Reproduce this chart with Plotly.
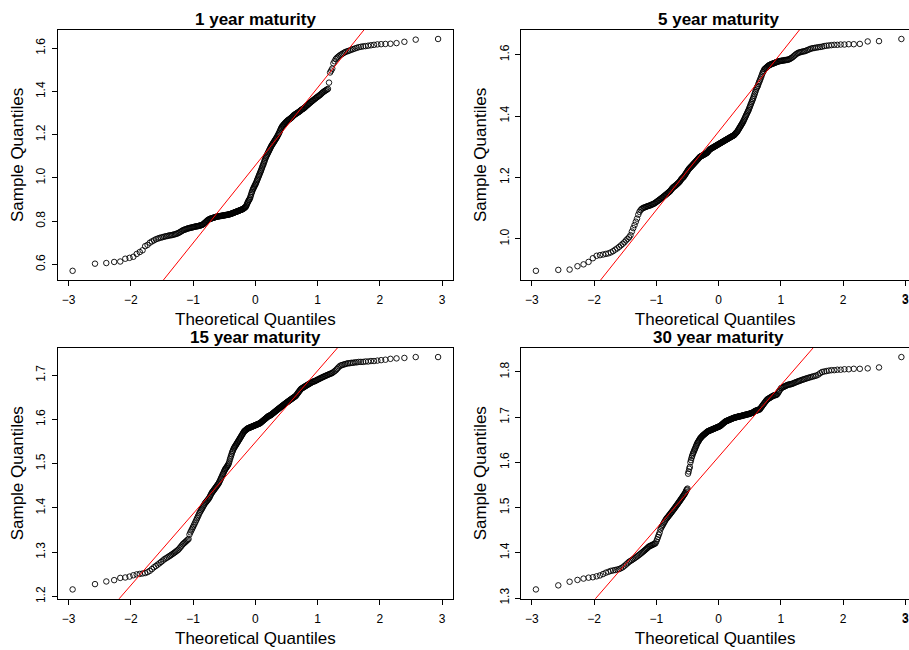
import numpy as np
import plotly.graph_objects as go
from statistics import NormalDist

# ---------------- data (sorted sample values, n = 300 each) ----------------
panel_titles = ["1 year maturity", "5 year maturity", "15 year maturity", "30 year maturity"]

y_1yr = [
    .570, .603, .606, .611, .613, .626, .630, .635, .648, .657,
    .665, .684, .690, .700, .706, .711, .716, .719, .722, .724,
    .726, .728, .730, .731, .733, .734, .735, .736, .738, .739,
    .741, .743, .745, .748, .751, .754, .757, .759, .761, .762,
    .764, .766, .767, .768, .769, .770, .771, .772, .773, .774,
    .775, .776, .776, .777, .778, .779, .780, .781, .782, .784,
    .786, .789, .792, .795, .798, .801, .804, .806, .808, .810,
    .811, .812, .813, .814, .815, .816, .817, .818, .819, .820,
    .821, .821, .822, .822, .823, .823, .824, .824, .825, .825,
    .826, .826, .827, .827, .828, .828, .829, .829, .830, .830,
    .831, .832, .832, .833, .834, .835, .836, .837, .838, .839,
    .840, .841, .842, .843, .844, .845, .846, .847, .848, .849,
    .850, .851, .852, .853, .854, .855, .857, .858, .860, .862,
    .864, .866, .870, .876, .882, .887, .892, .897, .900, .905,
    .912, .920, .928, .935, .942, .948, .953, .958, .963, .968,
    .972, .978, .984, .990, .996, 1.002, 1.008, 1.014, 1.020, 1.026,
    1.032, 1.038, 1.045, 1.052, 1.058, 1.064, 1.071, 1.078, 1.085, 1.092,
    1.098, 1.103, 1.108, 1.113, 1.118, 1.123, 1.128, 1.133, 1.138, 1.143,
    1.148, 1.152, 1.156, 1.160, 1.164, 1.168, 1.172, 1.176, 1.180, 1.184,
    1.188, 1.193, 1.198, 1.203, 1.208, 1.214, 1.220, 1.226, 1.231, 1.236,
    1.240, 1.243, 1.246, 1.249, 1.252, 1.255, 1.258, 1.261, 1.263, 1.266,
    1.268, 1.270, 1.272, 1.274, 1.276, 1.279, 1.281, 1.284, 1.287, 1.290,
    1.292, 1.294, 1.296, 1.298, 1.300, 1.302, 1.304, 1.306, 1.308, 1.311,
    1.314, 1.316, 1.318, 1.320, 1.322, 1.325, 1.328, 1.331, 1.334, 1.337,
    1.340, 1.343, 1.346, 1.349, 1.352, 1.355, 1.358, 1.361, 1.364, 1.367,
    1.370, 1.373, 1.376, 1.379, 1.382, 1.385, 1.389, 1.393, 1.397, 1.400,
    1.403, 1.406, 1.409, 1.412, 1.441, 1.488, 1.497, 1.506, 1.530, 1.540,
    1.550, 1.556, 1.561, 1.566, 1.570, 1.574, 1.578, 1.582, 1.585, 1.587,
    1.590, 1.593, 1.596, 1.599, 1.602, 1.605, 1.607, 1.609, 1.610, 1.612,
    1.614, 1.616, 1.618, 1.619, 1.620, 1.621, 1.624, 1.630, 1.640, 1.643,
]

y_5yr = [
    .896, .899, .900, .911, .917, .925, .937, .945, .947, .949,
    .951, .953, .956, .960, .965, .969, .974, .979, .984, .989,
    .995, 1.000, 1.005, 1.012, 1.024, 1.035, 1.045, 1.056, 1.066, 1.079,
    1.088, 1.094, 1.098, 1.100, 1.102, 1.103, 1.104, 1.106, 1.107, 1.108,
    1.109, 1.110, 1.112, 1.113, 1.114, 1.116, 1.118, 1.120, 1.122, 1.124,
    1.126, 1.128, 1.130, 1.132, 1.134, 1.136, 1.138, 1.140, 1.142, 1.144,
    1.146, 1.148, 1.150, 1.152, 1.154, 1.156, 1.159, 1.162, 1.165, 1.167,
    1.169, 1.171, 1.172, 1.174, 1.176, 1.178, 1.180, 1.182, 1.184, 1.186,
    1.189, 1.192, 1.195, 1.197, 1.199, 1.201, 1.203, 1.206, 1.209, 1.212,
    1.215, 1.218, 1.221, 1.224, 1.227, 1.229, 1.231, 1.233, 1.235, 1.237,
    1.239, 1.241, 1.243, 1.245, 1.247, 1.249, 1.251, 1.253, 1.255, 1.257,
    1.259, 1.261, 1.263, 1.265, 1.267, 1.268, 1.269, 1.270, 1.271, 1.272,
    1.273, 1.274, 1.275, 1.276, 1.277, 1.278, 1.279, 1.280, 1.282, 1.284,
    1.286, 1.288, 1.290, 1.292, 1.293, 1.294, 1.295, 1.296, 1.297, 1.298,
    1.299, 1.300, 1.301, 1.302, 1.303, 1.304, 1.305, 1.306, 1.307, 1.308,
    1.309, 1.310, 1.311, 1.312, 1.313, 1.314, 1.315, 1.316, 1.317, 1.318,
    1.319, 1.320, 1.321, 1.322, 1.323, 1.324, 1.325, 1.326, 1.327, 1.328,
    1.329, 1.330, 1.331, 1.332, 1.333, 1.334, 1.335, 1.336, 1.337, 1.338,
    1.340, 1.342, 1.344, 1.346, 1.348, 1.350, 1.353, 1.356, 1.359, 1.362,
    1.365, 1.368, 1.371, 1.374, 1.377, 1.380, 1.384, 1.388, 1.392, 1.396,
    1.400, 1.404, 1.408, 1.412, 1.416, 1.420, 1.425, 1.430, 1.435, 1.440,
    1.445, 1.450, 1.455, 1.460, 1.466, 1.472, 1.478, 1.484, 1.490, 1.494,
    1.498, 1.504, 1.510, 1.515, 1.520, 1.526, 1.532, 1.538, 1.543, 1.547,
    1.552, 1.554, 1.556, 1.558, 1.560, 1.562, 1.564, 1.566, 1.567, 1.568,
    1.569, 1.570, 1.571, 1.572, 1.573, 1.574, 1.575, 1.576, 1.577, 1.578,
    1.579, 1.579, 1.580, 1.580, 1.581, 1.581, 1.582, 1.582, 1.583, 1.583,
    1.584, 1.585, 1.587, 1.589, 1.591, 1.594, 1.597, 1.600, 1.603, 1.605,
    1.607, 1.608, 1.609, 1.610, 1.611, 1.612, 1.614, 1.616, 1.618, 1.620,
    1.621, 1.622, 1.623, 1.624, 1.625, 1.626, 1.628, 1.629, 1.630, 1.631,
    1.632, 1.632, 1.633, 1.633, 1.634, 1.634, 1.635, 1.643, 1.644, 1.651,
]

y_15yr = [
    1.216, 1.228, 1.234, 1.237, 1.242, 1.243, 1.245, 1.248, 1.250, 1.251,
    1.252, 1.253, 1.255, 1.258, 1.262, 1.266, 1.269, 1.272, 1.275, 1.278,
    1.281, 1.284, 1.286, 1.288, 1.290, 1.292, 1.294, 1.296, 1.298, 1.300,
    1.302, 1.304, 1.306, 1.309, 1.312, 1.315, 1.318, 1.320, 1.322, 1.324,
    1.326, 1.328, 1.330, 1.340, 1.345, 1.349, 1.353, 1.357, 1.361, 1.365,
    1.369, 1.373, 1.377, 1.381, 1.385, 1.389, 1.392, 1.395, 1.398, 1.401,
    1.404, 1.407, 1.410, 1.412, 1.414, 1.416, 1.418, 1.420, 1.422, 1.425,
    1.428, 1.431, 1.434, 1.436, 1.438, 1.440, 1.442, 1.444, 1.446, 1.448,
    1.450, 1.452, 1.454, 1.456, 1.459, 1.462, 1.465, 1.468, 1.471, 1.474,
    1.477, 1.480, 1.483, 1.486, 1.488, 1.490, 1.492, 1.494, 1.496, 1.498,
    1.501, 1.505, 1.510, 1.514, 1.518, 1.522, 1.526, 1.529, 1.532, 1.535,
    1.537, 1.539, 1.541, 1.543, 1.545, 1.547, 1.549, 1.551, 1.553, 1.555,
    1.557, 1.559, 1.561, 1.563, 1.565, 1.567, 1.569, 1.571, 1.573, 1.574,
    1.575, 1.576, 1.577, 1.578, 1.579, 1.580, 1.580, 1.581, 1.581, 1.582,
    1.582, 1.583, 1.583, 1.584, 1.584, 1.585, 1.585, 1.586, 1.586, 1.587,
    1.587, 1.588, 1.588, 1.589, 1.589, 1.590, 1.590, 1.591, 1.591, 1.592,
    1.593, 1.594, 1.595, 1.596, 1.597, 1.598, 1.599, 1.600, 1.601, 1.602,
    1.603, 1.604, 1.605, 1.606, 1.607, 1.608, 1.608, 1.609, 1.609, 1.610,
    1.611, 1.612, 1.613, 1.614, 1.615, 1.616, 1.617, 1.618, 1.619, 1.620,
    1.621, 1.622, 1.623, 1.624, 1.625, 1.626, 1.627, 1.628, 1.629, 1.630,
    1.631, 1.632, 1.633, 1.634, 1.635, 1.636, 1.637, 1.638, 1.639, 1.640,
    1.641, 1.642, 1.643, 1.644, 1.645, 1.646, 1.647, 1.648, 1.649, 1.650,
    1.651, 1.652, 1.653, 1.655, 1.657, 1.659, 1.661, 1.663, 1.665, 1.667,
    1.669, 1.670, 1.671, 1.672, 1.673, 1.674, 1.675, 1.676, 1.677, 1.678,
    1.679, 1.680, 1.681, 1.682, 1.683, 1.684, 1.685, 1.686, 1.686, 1.687,
    1.688, 1.689, 1.690, 1.691, 1.692, 1.693, 1.694, 1.695, 1.696, 1.697,
    1.698, 1.699, 1.700, 1.701, 1.702, 1.703, 1.704, 1.705, 1.707, 1.709,
    1.711, 1.714, 1.717, 1.720, 1.722, 1.723, 1.724, 1.725, 1.726, 1.727,
    1.727, 1.728, 1.728, 1.729, 1.729, 1.730, 1.730, 1.730, 1.731, 1.731,
    1.732, 1.732, 1.733, 1.734, 1.735, 1.737, 1.738, 1.739, 1.741, 1.741,
]

y_30yr = [
    1.319, 1.328, 1.336, 1.340, 1.343, 1.345, 1.346, 1.348, 1.350, 1.353,
    1.356, 1.358, 1.360, 1.361, 1.362, 1.363, 1.364, 1.366, 1.368, 1.371,
    1.374, 1.377, 1.380, 1.382, 1.384, 1.386, 1.388, 1.390, 1.392, 1.394,
    1.396, 1.398, 1.400, 1.402, 1.404, 1.406, 1.408, 1.410, 1.412, 1.414,
    1.415, 1.416, 1.417, 1.418, 1.419, 1.420, 1.421, 1.425, 1.430, 1.435,
    1.440, 1.445, 1.452, 1.456, 1.459, 1.462, 1.465, 1.468, 1.471, 1.474,
    1.476, 1.478, 1.480, 1.482, 1.484, 1.486, 1.488, 1.490, 1.492, 1.494,
    1.496, 1.498, 1.500, 1.502, 1.504, 1.506, 1.508, 1.510, 1.512, 1.514,
    1.516, 1.518, 1.520, 1.522, 1.524, 1.526, 1.528, 1.530, 1.532, 1.535,
    1.538, 1.540, 1.542, 1.575, 1.580, 1.586, 1.590, 1.600, 1.605, 1.610,
    1.614, 1.618, 1.621, 1.624, 1.627, 1.630, 1.633, 1.636, 1.639, 1.642,
    1.644, 1.646, 1.648, 1.650, 1.652, 1.654, 1.655, 1.656, 1.658, 1.659,
    1.660, 1.661, 1.662, 1.663, 1.664, 1.665, 1.666, 1.667, 1.668, 1.669,
    1.669, 1.670, 1.670, 1.671, 1.671, 1.672, 1.672, 1.673, 1.673, 1.674,
    1.674, 1.675, 1.675, 1.676, 1.676, 1.677, 1.677, 1.678, 1.678, 1.679,
    1.679, 1.680, 1.680, 1.681, 1.682, 1.683, 1.684, 1.685, 1.686, 1.687,
    1.688, 1.689, 1.690, 1.691, 1.691, 1.692, 1.692, 1.693, 1.693, 1.694,
    1.694, 1.695, 1.695, 1.696, 1.696, 1.697, 1.697, 1.698, 1.698, 1.699,
    1.699, 1.699, 1.700, 1.700, 1.700, 1.701, 1.701, 1.701, 1.702, 1.702,
    1.702, 1.702, 1.703, 1.703, 1.703, 1.704, 1.704, 1.704, 1.705, 1.705,
    1.705, 1.706, 1.706, 1.706, 1.707, 1.707, 1.707, 1.708, 1.708, 1.709,
    1.709, 1.710, 1.710, 1.711, 1.712, 1.713, 1.714, 1.715, 1.716, 1.717,
    1.714, 1.715, 1.716, 1.717, 1.719, 1.721, 1.723, 1.725, 1.727, 1.729,
    1.731, 1.733, 1.735, 1.737, 1.739, 1.740, 1.741, 1.742, 1.743, 1.744,
    1.745, 1.746, 1.747, 1.748, 1.748, 1.749, 1.749, 1.750, 1.752, 1.755,
    1.758, 1.761, 1.764, 1.765, 1.766, 1.767, 1.768, 1.769, 1.770, 1.771,
    1.772, 1.772, 1.773, 1.773, 1.774, 1.775, 1.776, 1.777, 1.778, 1.779,
    1.780, 1.781, 1.782, 1.783, 1.784, 1.785, 1.786, 1.787, 1.788, 1.789,
    1.790, 1.791, 1.792, 1.794, 1.797, 1.800, 1.801, 1.802, 1.803, 1.804,
    1.804, 1.805, 1.805, 1.806, 1.806, 1.807, 1.807, 1.808, 1.810, 1.833,
]

x_ticks = [-3, -2, -1, 0, 1, 2, 3]
y_ticks_1yr = [0.6, 0.8, 1.0, 1.2, 1.4, 1.6]
y_ticks_5yr = [1.0, 1.2, 1.4, 1.6]
y_ticks_15yr = [1.2, 1.3, 1.4, 1.5, 1.6, 1.7]
y_ticks_30yr = [1.3, 1.4, 1.5, 1.6, 1.7, 1.8]

# ---------------- figure ----------------
W, H = 909, 650
FONT = "Liberation Sans, Arial, Helvetica, sans-serif"
nd = NormalDist()

series = [y_1yr, y_5yr, y_15yr, y_30yr]
yticks = [y_ticks_1yr, y_ticks_5yr, y_ticks_15yr, y_ticks_30yr]

# plot-region geometry in pixels (left, right, top, bottom)
boxes = [
    (58.0, 452.7, 30.0, 282.7),
    (521.3, 916.0, 30.0, 282.7),
    (58.0, 452.7, 351.0, 604.3),
    (521.3, 916.0, 351.0, 604.3),
]

fig = go.Figure()
layout = dict(
    width=W, height=H, margin=dict(l=0, r=0, t=0, b=0),
    paper_bgcolor="white", plot_bgcolor="white", showlegend=False,
    font=dict(family=FONT, color="black"),
    annotations=[],
)

for k in range(4):
    ys = np.sort(np.array(series[k], dtype=float))
    n = len(ys)
    xs = np.array([nd.inv_cdf((i + 0.5) / n) for i in range(n)])  # ppoints(n)
    # R-style axis limits (4% extension)
    xlo, xhi = xs.min(), xs.max()
    xpad = 0.04 * (xhi - xlo)
    xlo, xhi = xlo - xpad, xhi + xpad
    ylo, yhi = ys.min(), ys.max()
    ypad = 0.04 * (yhi - ylo)
    ylo, yhi = ylo - ypad, yhi + ypad

    L, R, T, B = boxes[k]
    # the page clips the right-hand panels at the window edge
    Rv = min(R, W)
    xhi_vis = xlo + (xhi - xlo) * (Rv - L) / (R - L)

    # qqline through the quartiles
    q1, q3 = np.quantile(ys, [0.25, 0.75])
    t1, t3 = nd.inv_cdf(0.25), nd.inv_cdf(0.75)
    slope = (q3 - q1) / (t3 - t1)
    inter = q1 - slope * t1
    lx = np.array([xlo, xhi_vis])

    sfx = "" if k == 0 else str(k + 1)
    xa, ya = "x" + sfx, "y" + sfx

    fig.add_trace(go.Scatter(
        x=xs, y=ys, mode="markers", xaxis=xa, yaxis=ya,
        marker=dict(symbol="circle-open", size=5.5, color="black",
                    line=dict(width=0.9, color="black")),
        hoverinfo="skip"))
    fig.add_trace(go.Scatter(
        x=lx, y=inter + slope * lx, mode="lines", xaxis=xa, yaxis=ya,
        line=dict(color="red", width=1), hoverinfo="skip"))

    right_clipped = R > W
    layout["xaxis" + sfx] = dict(
        domain=[L / W, Rv / W], range=[xlo, xhi_vis], anchor=ya,
        tickmode="array", tickvals=x_ticks, ticks="outside", ticklen=5,
        tickcolor="black", tickfont=dict(size=12, family=FONT, color="black"),
        ticklabelstandoff=4, ticklabeloverflow="allow",
        showgrid=False, zeroline=False, showline=True, linecolor="black",
        linewidth=1, mirror=True,
        title=dict(text="Theoretical Quantiles", font=dict(size=17, family=FONT),
                   standoff=6),
    )
    layout["yaxis" + sfx] = dict(
        domain=[1 - B / H, 1 - T / H], range=[ylo, yhi], anchor=xa,
        tickmode="array", tickvals=yticks[k], tickformat=".1f", tickangle=-90,
        ticks="outside", ticklen=5, tickcolor="black",
        tickfont=dict(size=12, family=FONT, color="black"),
        ticklabelstandoff=2,
        showgrid=False, zeroline=False, showline=True, linecolor="black",
        linewidth=1, mirror=not right_clipped,
        title=dict(text="Sample Quantiles", font=dict(size=17, family=FONT),
                   standoff=6),
    )
    if right_clipped:
        # the last tick label sits at the window edge; plotly drops it, so place it
        layout["annotations"].append(dict(
            text=str(x_ticks[-1]), xref=xa, yref="paper", x=x_ticks[-1],
            y=1 - (B + 11.0) / H, xanchor="center", yanchor="top",
            showarrow=False, borderpad=0,
            font=dict(size=12, family=FONT, color="black")))
    cx = (L + R) / 2.0
    ty = 20.0 if T < 100 else 341.0
    layout["annotations"].append(dict(
        text="<b>" + panel_titles[k] + "</b>", xref="paper", yref="paper",
        x=cx / W, y=1 - ty / H, xanchor="center", yanchor="middle",
        showarrow=False, font=dict(size=17, family=FONT, color="black")))

fig.update_layout(**layout)
fig.write_html("out.html")
